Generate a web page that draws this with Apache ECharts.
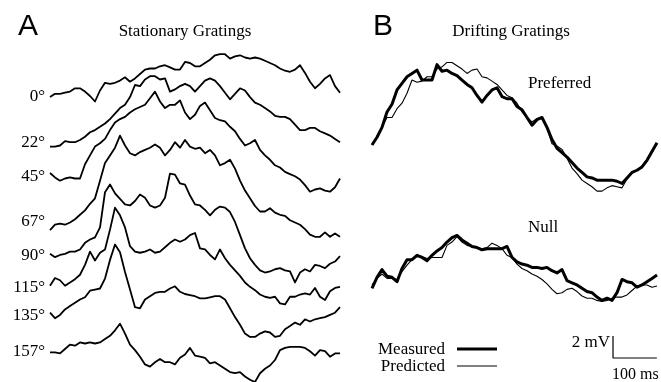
<!DOCTYPE html>
<html>
<head>
<meta charset="utf-8">
<script src="https://cdn.jsdelivr.net/npm/echarts@6/dist/echarts.min.js"></script>
<style>
  html, body { margin: 0; padding: 0; background: #fff; }
  #chart { width: 661px; height: 382px; }
</style>
</head>
<body>
<div id="chart"></div>
<script>
// Membrane potential traces (mV relative to the start of each sweep),
// sampled every 11.4 ms.
const SAMPLE_MS = 11.4;

// A: responses to stationary gratings at eight orientations
const orientations = ['0°', '22°', '45°', '67°', '90°', '115°', '135°', '157°'];

const stat0 = [0, 0.3, 0.3, 0.4, 0.5, 0.8, 0.8, 0.5, 0.1, -0.4,
  0.6, 1.3, 1.2, 1.3, 1.5, 1.8, 1.4, 1.7, 2.1, 2.5,
  2.6, 2.6, 2.8, 2.9, 2.7, 2.5, 2.5, 3.2, 3.1, 2.8,
  2.8, 3.1, 3.4, 3.8, 3.9, 3.9, 3.5, 3.7, 3.8, 3.6,
  3.5, 3.6, 3.5, 3.3, 3.1, 2.9, 2.6, 2.4, 2.3, 2.5,
  2.9, 2.2, 1.4, 0.8, 1.2, 1.7, 2.0, 1.0, 0.4];

const stat22 = [0, 0, 0.1, 0.5, 0.4, 0.4, 0.6, 0.9, 1.3, 1.5,
  1.8, 2.1, 2.5, 3.0, 3.5, 3.8, 4.5, 5.6, 5.5, 6.1,
  6.4, 6.4, 6.1, 6.2, 5.0, 5.2, 5.5, 5.7, 5.5, 5.0,
  5.5, 6.0, 6.2, 6.0, 5.5, 4.9, 4.3, 4.8, 5.3, 5.1,
  4.5, 4.0, 3.8, 3.5, 3.2, 2.8, 2.7, 2.7, 2.5, 2.0,
  1.5, 1.5, 1.7, 1.7, 1.4, 1.2, 1.0, 0.7, 0.4];

const stat45 = [0, -0.4, -0.7, -0.5, -0.4, -0.5, -0.5, 0.8, 1.6, 2.4,
  2.7, 3.1, 3.9, 4.6, 4.9, 5.1, 5.5, 5.8, 6.0, 6.2,
  6.8, 7.4, 6.5, 5.9, 6.2, 6.2, 6.6, 5.5, 4.9, 5.3,
  6.1, 6.4, 5.7, 5.0, 4.8, 4.7, 4.2, 3.8, 3.1, 2.5,
  2.7, 3.0, 2.1, 1.6, 1.2, 0.7, 0.5, 0.1, -0.1, -0.3,
  -0.6, -1.1, -1.7, -1.5, -1.4, -1.6, -1.7, -1.3, -0.5];

const stat67 = [0, 0.5, 0.6, 0.5, 0.7, 1.0, 1.4, 1.8, 2.4, 2.9,
  4.5, 6.1, 6.8, 7.5, 8.6, 7.7, 7.0, 6.8, 7.1, 7.3,
  7.5, 7.8, 7.5, 6.8, 7.3, 8.0, 7.5, 8.2, 7.6, 7.4,
  7.5, 7.0, 7.3, 6.8, 5.9, 6.1, 6.4, 5.6, 4.5, 3.6,
  2.9, 2.2, 1.7, 1.7, 2.0, 1.6, 1.4, 1.3, 0.9, 0.7,
  0.5, 0.1, -0.4, -0.6, -0.6, -0.2, -0.6, -0.3, -0.6];

const stat90 = [0.1, -0.2, 0, 0.1, 0.3, 0.3, 0.5, 1.1, 1.4, 1.6,
  2.5, 5.7, 6.4, 5.6, 5.1, 4.6, 4.5, 4.9, 5.5, 5.2,
  4.5, 4.3, 4.5, 5.2, 7.4, 7.3, 6.5, 6.4, 5.4, 4.6,
  4.5, 4.1, 3.6, 4.1, 4.4, 4.3, 3.9, 3.0, 1.8, 0.6,
  -0.3, -0.9, -1.4, -1.6, -1.5, -1.3, -1.2, -1.4, -1.5, -2.5,
  -1.6, -1.3, -1.5, -0.9, -1.0, -1.2, -0.8, -0.6, -0.1];

const stat115 = [0.2, 0.9, 0.7, 0.2, 0.5, 0.8, 1.2, 2.1, 3.3, 2.5,
  3.2, 3.5, 5.3, 7.3, 6.6, 5.5, 3.8, 3.3, 3.2, 3.3,
  3.5, 3.2, 3.3, 3.7, 4.1, 4.4, 4.2, 4.4, 4.8, 5.0,
  3.6, 3.5, 3.0, 2.6, 3.5, 2.7, 2.1, 1.6, 1.1, 0.5,
  0.1, -0.2, -0.6, -0.8, -0.9, -0.8, -1.4, -1.5, -0.8, -0.8,
  -0.6, -0.5, -0.6, 0, -0.8, -1.1, -0.3, 0, 0.1];

const stat135 = [0, -0.5, -0.2, 0.3, 0.6, 0.9, 1.2, 1.4, 2.0, 2.1,
  2.2, 3.1, 4.8, 6.2, 5.5, 3.7, 2.1, 0.5, 0.4, 1.2,
  1.5, 1.8, 1.9, 1.9, 2.2, 2.4, 1.9, 1.7, 1.6, 1.5,
  1.3, 1.3, 1.4, 1.5, 1.5, 1.2, 0.4, -0.4, -1.1, -1.9,
  -2.2, -2.2, -1.9, -1.7, -1.8, -2.2, -2.1, -1.5, -1.2, -0.9,
  -1.1, -0.6, -0.8, -0.6, -0.5, -0.4, -0.2, 0, 0.5];

const stat157 = [0, 0, -0.1, 0.3, 0.7, 0.6, 0.9, 0.8, 0.9, 0.8,
  0.9, 1.2, 1.5, 2.0, 2.6, 1.7, 0.7, 0.2, -0.4, -1.1,
  -1.3, -0.9, -0.6, -0.9, -0.9, -1.1, -0.5, -0.2, 0.4, -0.3,
  -0.4, -0.5, -1.0, -0.9, -1.2, -1.5, -1.8, -1.9, -1.8, -2.2,
  -2.5, -2.7, -1.9, -1.5, -1.2, -0.7, 0.2, 0.4, 0.5, 0.5,
  0.5, 0.4, 0.1, -0.3, 0.2, 0.1, -0.4, -0.1, -0.1];

const stationaryTraces = [stat0, stat22, stat45, stat67, stat90, stat115, stat135, stat157];

// B: drifting gratings, measured vs. predicted
const prefMeasured = [0, 0.7, 1.6, 3.0, 3.7, 5.0, 5.6, 6.2, 6.5, 6.8,
  5.9, 5.9, 5.9, 7.3, 6.7, 6.8, 6.5, 6.3, 5.9, 5.5,
  5.2, 4.5, 3.9, 4.5, 5.0, 5.2, 4.4, 4.2, 4.2, 3.5,
  3.2, 2.5, 1.8, 2.3, 2.5, 1.6, 0.5, -0.3, -0.7, -1.1,
  -1.6, -2.1, -2.5, -2.9, -3.0, -3.2, -3.2, -3.2, -3.2, -3.3,
  -3.5, -3.0, -2.5, -2.3, -2.0, -1.4, -0.6, 0.2];

const prefPredicted = [0, 0.7, 1.6, 2.5, 2.5, 3.3, 3.8, 4.7, 5.9, 5.7,
  5.8, 6.2, 6.2, 6.9, 7.1, 7.5, 7.5, 7.2, 6.9, 6.5,
  6.8, 6.9, 6.2, 6.1, 5.8, 5.5, 5.0, 4.5, 4.3, 3.8,
  3.0, 2.5, 2.1, 2.4, 2.5, 1.5, 0.1, -0.1, -0.4, -1.2,
  -2.1, -2.6, -3.2, -3.5, -3.8, -4.2, -4.2, -3.9, -3.7, -3.8,
  -3.9, -3.1, -2.5, -2.3, -1.9, -1.3, -0.5, 0.1];

const nullMeasured = [-0.3, 0.7, 1.4, 0.8, 0.7, 0.3, 1.5, 2.3, 2.3, 2.7,
  2.5, 2.2, 2.7, 3.1, 3.4, 3.9, 4.3, 4.5, 4.1, 3.8,
  3.5, 3.4, 3.2, 3.3, 3.3, 3.3, 3.3, 3.5, 2.5, 2.1,
  1.9, 1.8, 1.6, 1.6, 1.5, 1.6, 1.3, 1.1, 1.4, 0.4,
  0.2, 0, -0.3, -0.6, -0.7, -1.1, -1.4, -1.2, -1.4, -0.7,
  0.5, 0.3, 0.2, -0.2, 0, 0.3, 0.6, 0.9];

const nullPredicted = [0, 0.6, 1.0, 0.6, 0.6, 0.5, 1.2, 1.8, 2.3, 2.6,
  2.6, 2.4, 2.5, 2.5, 2.5, 3.6, 3.9, 4.4, 3.9, 3.6,
  3.5, 3.4, 3.3, 3.4, 3.8, 3.6, 3.3, 2.7, 2.5, 1.9,
  1.5, 1.3, 1.0, 0.8, 0.5, 0.1, -0.4, -0.8, -0.7, -0.4,
  -0.3, -0.6, -1.0, -1.2, -1.2, -1.4, -1.5, -1.4, -1.2, -1.1,
  -1.1, -0.9, -0.5, -0.1, 0, 0, -0.2, -0.1];

// Calibration
const scaleBarMv = 2;
const scaleBarMs = 100;

// ---- layout (vertical stacking of sweeps, in mV on a 0..32 axis) ----
const stackOffsetsA = [25.9, 21.4, 19.0, 13.8, 11.55, 8.55, 6.3, 2.7];
const prefOffset = 21.55;
const nullOffset = 8.82;
const scaleBarAnchor = { ms: 549.5, mv: 2.18 };
const labelY = [97, 143, 177, 222, 256, 288, 316, 352];

const SERIF = '"Liberation Serif", "Times New Roman", serif';
const SANS = '"Liberation Sans", Arial, sans-serif';
const STATIONARY_W = 1.8;
const MEASURED_W = 3;
const PREDICTED_W = 1.1;

function toPoints(values, offset) {
  return values.map((v, i) => [i * SAMPLE_MS, v + offset]);
}

const chart = echarts.init(document.getElementById('chart'), null, { renderer: 'canvas' });

const series = [];
stationaryTraces.forEach((trace, k) => {
  series.push({
    name: orientations[k],
    type: 'line',
    xAxisIndex: 0, yAxisIndex: 0,
    data: toPoints(trace, stackOffsetsA[k]),
    symbol: 'none', clip: false, silent: true,
    lineStyle: { color: '#000', width: STATIONARY_W, join: 'round' }
  });
});

const driftSets = [
  { name: 'Measured', data: prefMeasured, offset: prefOffset, width: MEASURED_W },
  { name: 'Measured', data: nullMeasured, offset: nullOffset, width: MEASURED_W },
  { name: 'Predicted', data: prefPredicted, offset: prefOffset, width: PREDICTED_W },
  { name: 'Predicted', data: nullPredicted, offset: nullOffset, width: PREDICTED_W }
];
driftSets.forEach(s => {
  series.push({
    name: s.name,
    type: 'line',
    xAxisIndex: 1, yAxisIndex: 1,
    data: toPoints(s.data, s.offset),
    symbol: 'none', clip: false, silent: true,
    lineStyle: { color: '#000', width: s.width, join: 'round' }
  });
});

// L-shaped calibration bar
series.push({
  name: 'scale',
  type: 'line',
  xAxisIndex: 1, yAxisIndex: 1,
  data: [
    [scaleBarAnchor.ms, scaleBarAnchor.mv + scaleBarMv],
    [scaleBarAnchor.ms, scaleBarAnchor.mv],
    [scaleBarAnchor.ms + scaleBarMs, scaleBarAnchor.mv]
  ],
  symbol: 'none', clip: false, silent: true,
  lineStyle: { color: '#000', width: 1.2 }
});

function label(text, x, y, align, size) {
  return { type: 'text', x: x, y: y, silent: true,
    style: { text: text, font: (size || 17) + 'px ' + SERIF, fill: '#000', align: align, verticalAlign: 'middle' } };
}

const graphics = [
  { type: 'text', x: 18, y: 27, silent: true, style: { text: 'A', font: '400 30px ' + SANS, fill: '#000', align: 'left', verticalAlign: 'middle' } },
  { type: 'text', x: 373, y: 27, silent: true, style: { text: 'B', font: '400 30px ' + SANS, fill: '#000', align: 'left', verticalAlign: 'middle' } },
  label('Stationary Gratings', 185, 32, 'center'),
  label('Drifting Gratings', 511, 32, 'center'),
  label('Preferred', 528, 84, 'left'),
  label('Null', 528, 228, 'left'),
  label('2 mV', 610, 343, 'right'),
  label('100 ms', 612, 375, 'left', 16),
  // key
  label('Measured', 445, 350, 'right'),
  label('Predicted', 445, 367, 'right'),
  { type: 'line', silent: true, shape: { x1: 457, y1: 349, x2: 497, y2: 349 }, style: { stroke: '#000', lineWidth: MEASURED_W } },
  { type: 'line', silent: true, shape: { x1: 457, y1: 366, x2: 497, y2: 366 }, style: { stroke: '#000', lineWidth: PREDICTED_W } }
];
orientations.forEach((o, k) => graphics.push(label(o, 45, labelY[k], 'right')));

chart.setOption({
  animation: false,
  backgroundColor: '#fff',
  grid: [
    { left: 50, top: 30, width: 290, height: 352 },
    { left: 372, top: 30, width: 285, height: 352 }
  ],
  xAxis: [
    { gridIndex: 0, type: 'value', min: 0, max: 58 * SAMPLE_MS, show: false },
    { gridIndex: 1, type: 'value', min: 0, max: 57 * SAMPLE_MS, show: false }
  ],
  yAxis: [
    { gridIndex: 0, type: 'value', min: 0, max: 32, show: false },
    { gridIndex: 1, type: 'value', min: 0, max: 32, show: false }
  ],
  graphic: graphics,
  series: series
});
</script>
</body>
</html>
